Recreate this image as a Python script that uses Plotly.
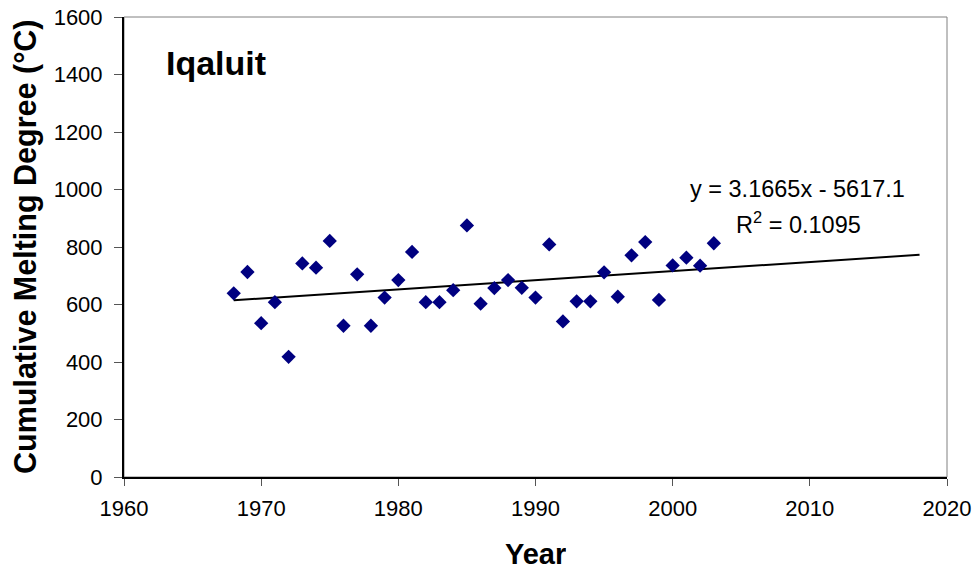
import numpy as np
import plotly.graph_objects as go

# values
years = list(range(1968, 2004))
melt = [639, 713, 535, 608, 418, 743, 728, 821, 526, 705,
        526, 624, 685, 783, 608, 608, 650, 875, 603, 657,
        685, 658, 624, 809, 541, 611, 611, 712, 627, 771,
        817, 616, 736, 763, 735, 813]

# linear trend as printed on the chart, extended to 2018
slope = 3.1665
intercept = -5617.1
trend_years = np.array([1968, 2018])
trend_vals = slope * trend_years + intercept

FONT = 'Liberation Sans, Arial, sans-serif'

fig = go.Figure()
fig.add_trace(go.Scatter(
    x=trend_years, y=trend_vals, mode='lines',
    line=dict(color='black', width=2), hoverinfo='skip'))
fig.add_trace(go.Scatter(
    x=years, y=melt, mode='markers',
    marker=dict(symbol='diamond', size=11, color='#000080')))

# gray frame for top/right edges
fig.add_shape(type='rect', xref='paper', yref='paper', x0=0, y0=0, x1=1, y1=1,
              line=dict(color='#808080', width=1), layer='below')

fig.add_annotation(x=0, y=1, xref='paper', yref='paper', text='<b>Iqaluit</b>',
                   showarrow=False, xanchor='left', yanchor='middle',
                   xshift=40, yshift=-46,
                   font=dict(size=34, color='black', family=FONT))
fig.add_annotation(x=0.952, y=0.627, xref='paper', yref='paper',
                   text='y = 3.1665x - 5617.1', showarrow=False,
                   xanchor='right', yanchor='middle',
                   font=dict(size=23.5, color='black', family=FONT))
fig.add_annotation(x=0.898, y=0.553, xref='paper', yref='paper',
                   text='R<sup>2</sup> = 0.1095', showarrow=False,
                   xanchor='right', yanchor='middle',
                   font=dict(size=23.5, color='black', family=FONT))

# axis titles
fig.add_annotation(x=0, y=0.5, xref='paper', yref='paper',
                   text='<b>Cumulative Melting Degree (°C)</b>', textangle=-90,
                   showarrow=False, xanchor='center', yanchor='middle', xshift=-99,
                   font=dict(size=30.5, color='black', family=FONT))
fig.add_annotation(x=0.5, y=0, xref='paper', yref='paper', text='<b>Year</b>',
                   showarrow=False, xanchor='center', yanchor='middle', yshift=-77,
                   height=26,
                   font=dict(size=29, color='black', family=FONT))

fig.update_layout(
    width=974, height=571,
    margin=dict(l=124, r=27, t=17, b=94),
    paper_bgcolor='white', plot_bgcolor='white',
    showlegend=False,
    font=dict(family=FONT, color='black', size=22),
    xaxis=dict(range=[1960, 2020], dtick=10, showgrid=False, zeroline=False,
               showline=True, linecolor='black', linewidth=2,
               ticks='outside', ticklen=7, tickcolor='#555555',
               ticklabelstandoff=4, ticklabeloverflow='allow', automargin=False),
    yaxis=dict(range=[0, 1600], dtick=200, showgrid=False, zeroline=False,
               showline=True, linecolor='black', linewidth=2,
               ticks='outside', ticklen=8, tickcolor='#555555',
               ticklabelstandoff=7, ticklabeloverflow='allow', automargin=False),
)

# drop the default 8px page margin so the 974x571 figure fills the window
fig.write_html("out.html", config={'displayModeBar': False},
               post_script="document.body.style.margin='0';document.body.style.overflow='hidden';")
